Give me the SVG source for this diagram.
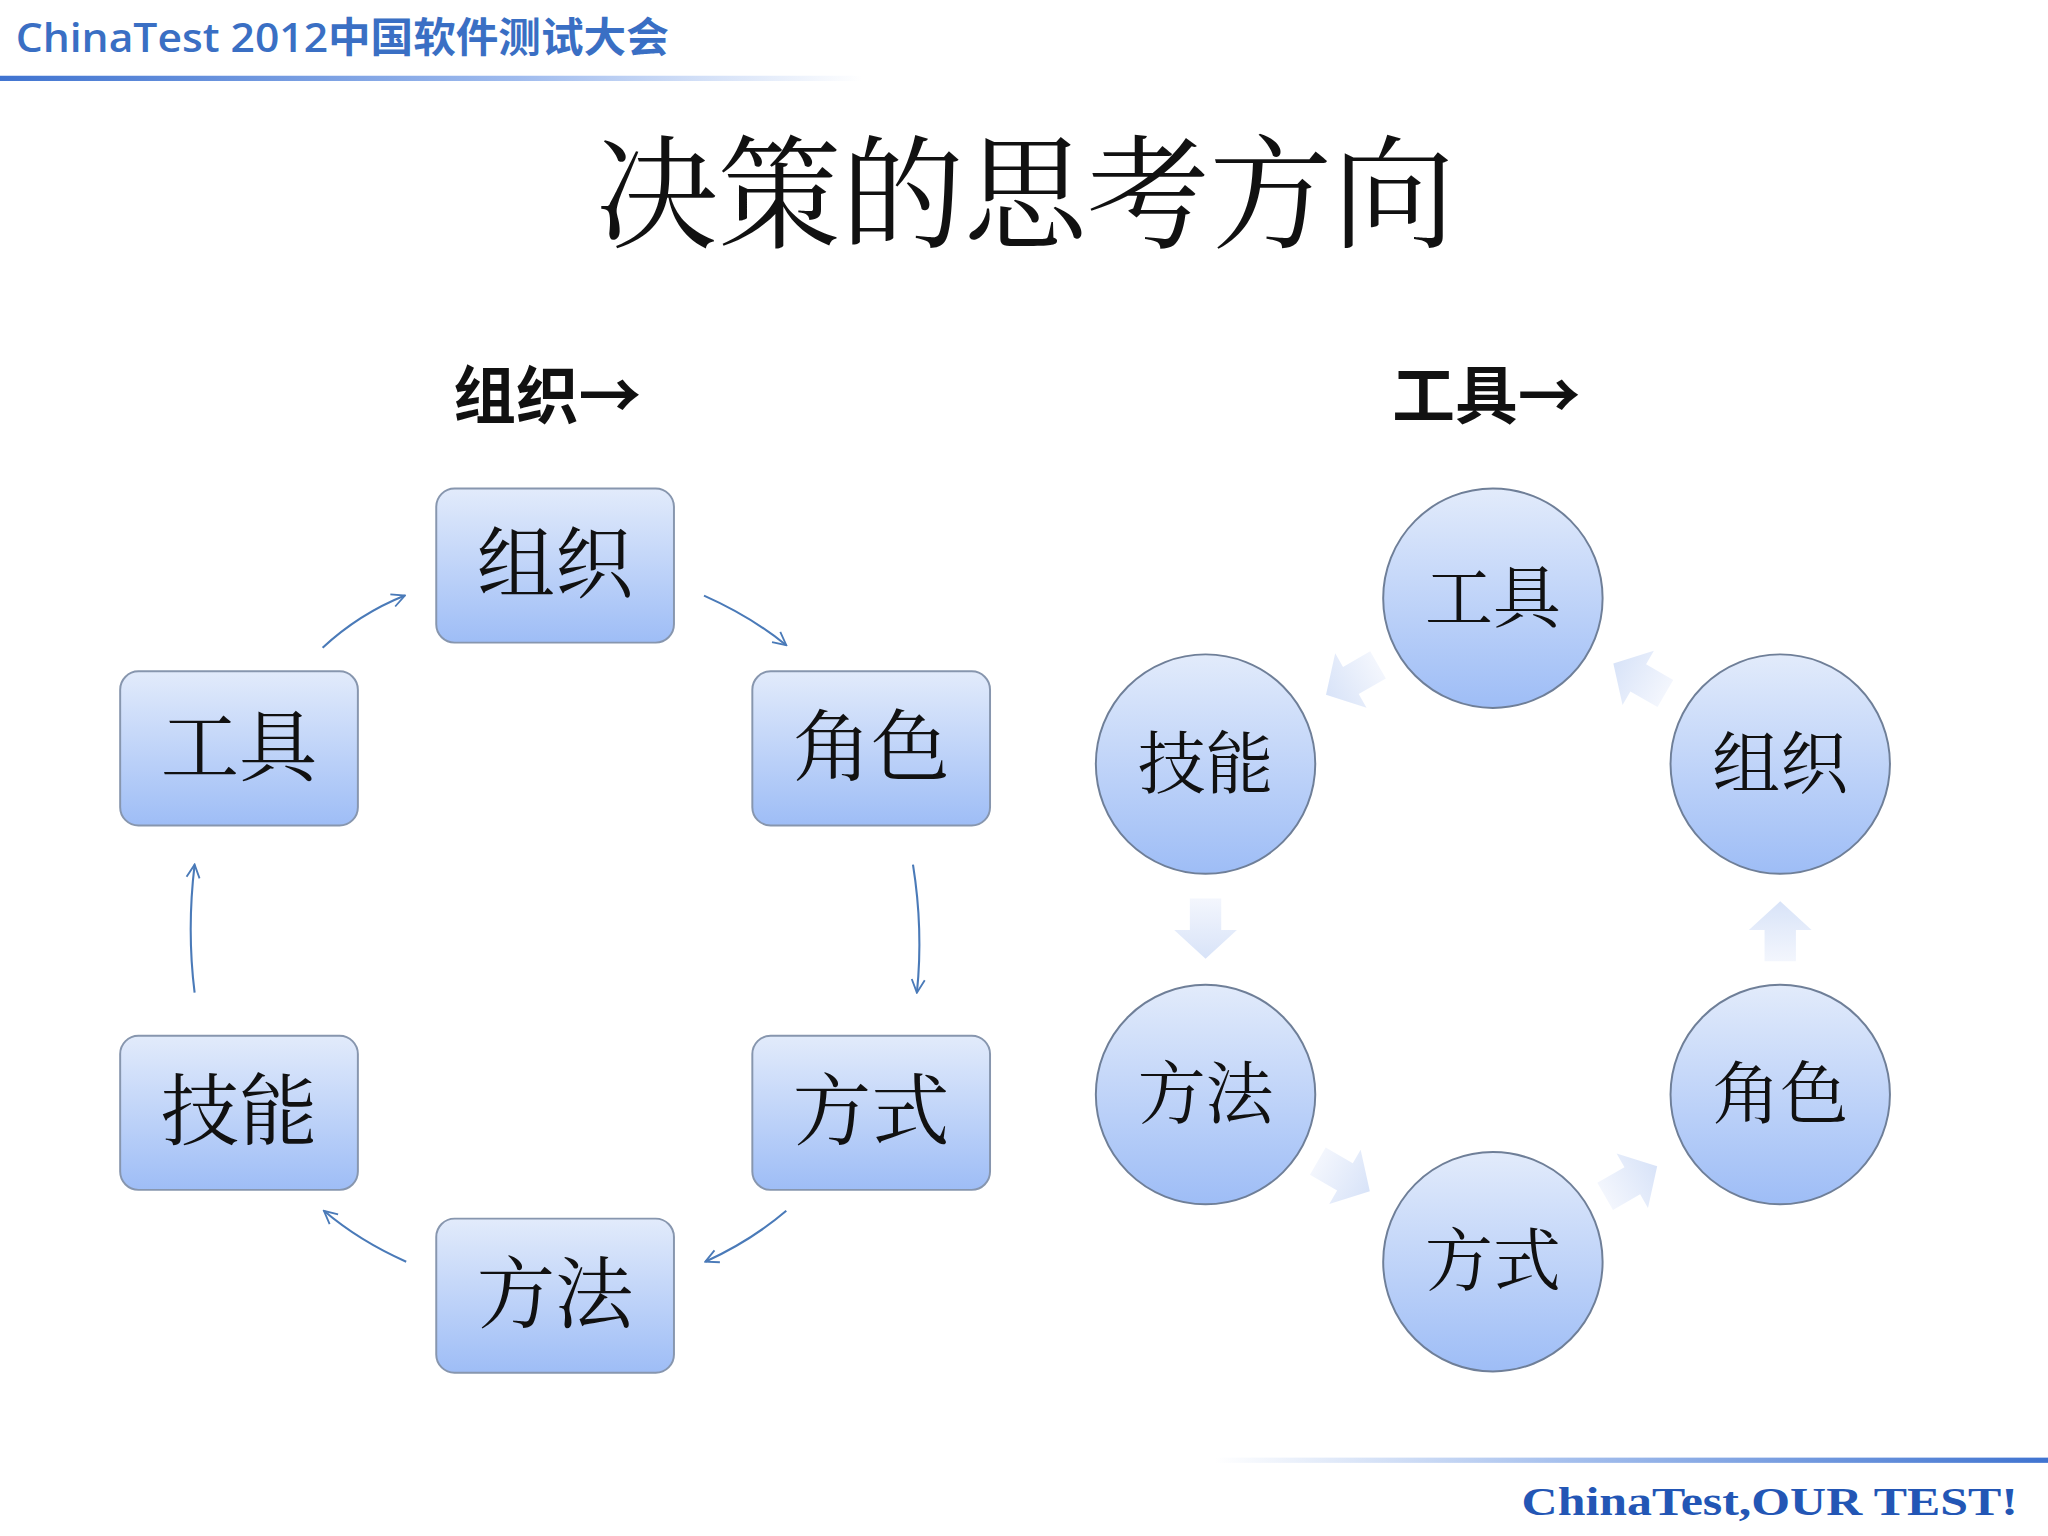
<svg xmlns="http://www.w3.org/2000/svg" width="2048" height="1536" viewBox="0 0 2048 1536">
<defs>
<linearGradient id="nodeG" x1="0" y1="0" x2="0" y2="1"><stop offset="0" stop-color="#e2ebfb"/><stop offset="1" stop-color="#9ebdf6"/></linearGradient>
<linearGradient id="arrG" x1="0" y1="0" x2="1" y2="0"><stop offset="0" stop-color="#f3f6fd"/><stop offset="1" stop-color="#d8e3f8"/></linearGradient>
<linearGradient id="hdrG" x1="0" y1="0" x2="1" y2="0"><stop offset="0" stop-color="#3f73d0"/><stop offset="0.6" stop-color="#9fbbee"/><stop offset="1" stop-color="#ffffff"/></linearGradient>
<linearGradient id="ftrG" x1="0" y1="0" x2="1" y2="0"><stop offset="0" stop-color="#ffffff"/><stop offset="0.4" stop-color="#a9c2ee"/><stop offset="1" stop-color="#3f73d0"/></linearGradient>
<marker id="ah" viewBox="0 0 12 12" refX="11" refY="6" markerWidth="12" markerHeight="12" markerUnits="userSpaceOnUse" orient="auto"><path d="M1,1 L11,6 L1,11" fill="none" stroke="#4a7ab8" stroke-width="1.4"/></marker>
<polygon id="blk" points="-22,-12 2,-12 2,-24 24,0 2,24 2,12 -22,12" fill="url(#arrG)"/>
</defs>
<style>
.rect{fill:url(#nodeG);stroke:#8796ae;stroke-width:1.5}
.circ{fill:url(#nodeG);stroke:#6f7f98;stroke-width:1.5}
.lt{font-family:"Noto Serif CJK SC","Liberation Serif","Noto Sans CJK SC",serif;font-size:60px;fill:#111;text-anchor:middle}
.ct{font-family:"Noto Serif CJK SC","Liberation Serif","Noto Sans CJK SC",serif;font-size:52px;fill:#111;text-anchor:middle}
.conn{fill:none;stroke:#4a7ab8;stroke-width:1.6;marker-end:url(#ah)}
.hd{font-family:"Noto Sans CJK SC",sans-serif;font-weight:bold;font-size:48px;fill:#111}
</style>
<rect width="2048" height="1536" fill="#fff"/>
<g transform="scale(1.30612)">
<text x="12" y="40" font-family="'Open Sans','Noto Sans CJK SC',sans-serif" font-weight="600" font-size="31" fill="#3a6fc4" textLength="500" lengthAdjust="spacingAndGlyphs">ChinaTest 2012中国软件测试大会</text>
<rect x="0" y="58" width="660" height="4" fill="url(#hdrG)"/>
<text x="785" y="182" font-family="'Noto Serif CJK SC','Liberation Serif','Noto Sans CJK SC',serif" font-size="94" fill="#111" text-anchor="middle">决策的思考方向</text>
<text class="hd" x="347" y="320">组织→</text>
<text class="hd" x="1066" y="320">工具→</text>

<g id="connectors">
<path class="conn" d="M247,496 Q275,470 310,456"/>
<path class="conn" d="M539,456 Q575,472 602,494"/>
<path class="conn" d="M699,662 Q707,712 702,760"/>
<path class="conn" d="M602,927 Q575,950 540,966"/>
<path class="conn" d="M311,966 Q275,950 248,927"/>
<path class="conn" d="M149,760 Q143,712 149,662"/>
<use href="#blk" transform="translate(1036,520) rotate(150)"/>
<use href="#blk" transform="translate(1256,520) rotate(210)"/>
<use href="#blk" transform="translate(1363,714) rotate(-90)"/>
<use href="#blk" transform="translate(1248,905) rotate(-30)"/>
<use href="#blk" transform="translate(1028,900) rotate(30)"/>
<use href="#blk" transform="translate(923,710) rotate(90)"/>
</g>

<g id="L-zuzhi"><rect class="rect" x="334" y="374" width="182" height="118" rx="14"/><text class="lt" x="425" y="453">组织</text></g>
<g id="L-jiaose"><rect class="rect" x="576" y="514" width="182" height="118" rx="14"/><text class="lt" x="667" y="593">角色</text></g>
<g id="L-fangshi"><rect class="rect" x="576" y="793" width="182" height="118" rx="14"/><text class="lt" x="667" y="872">方式</text></g>
<g id="L-fangfa"><rect class="rect" x="334" y="933" width="182" height="118" rx="14"/><text class="lt" x="425" y="1012">方法</text></g>
<g id="L-jineng"><rect class="rect" x="92" y="793" width="182" height="118" rx="14"/><text class="lt" x="183" y="872">技能</text></g>
<g id="L-gongju"><rect class="rect" x="92" y="514" width="182" height="118" rx="14"/><text class="lt" x="183" y="593">工具</text></g>

<g id="R-gongju"><circle class="circ" cx="1143" cy="458" r="84"/><text class="ct" x="1143" y="476">工具</text></g>
<g id="R-zuzhi"><circle class="circ" cx="1363" cy="585" r="84"/><text class="ct" x="1363" y="603">组织</text></g>
<g id="R-jiaose"><circle class="circ" cx="1363" cy="838" r="84"/><text class="ct" x="1363" y="856">角色</text></g>
<g id="R-fangshi"><circle class="circ" cx="1143" cy="966" r="84"/><text class="ct" x="1143" y="984">方式</text></g>
<g id="R-fangfa"><circle class="circ" cx="923" cy="838" r="84"/><text class="ct" x="923" y="856">方法</text></g>
<g id="R-jineng"><circle class="circ" cx="923" cy="585" r="84"/><text class="ct" x="923" y="603">技能</text></g>

<rect x="930" y="1116" width="638" height="4" fill="url(#ftrG)"/>
<text x="1165" y="1160" font-family="'Liberation Serif',serif" font-weight="bold" font-size="31" fill="#2356b5" textLength="380" lengthAdjust="spacingAndGlyphs">ChinaTest,OUR TEST!</text>
</g>
</svg>
